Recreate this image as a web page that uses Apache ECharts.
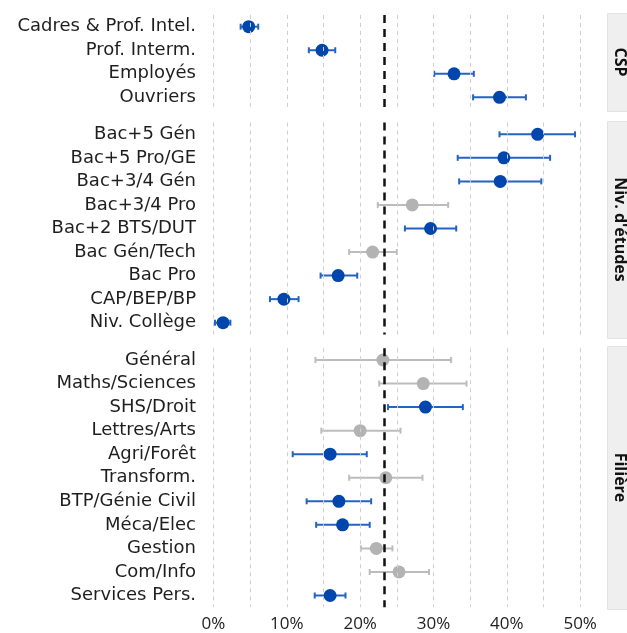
<!DOCTYPE html>
<html><head><meta charset="utf-8">
<script src="https://cdn.jsdelivr.net/npm/echarts@6/dist/echarts.min.js"></script>
<style>html,body{margin:0;padding:0;background:#fff}#c{width:627px;height:633px}</style>
</head><body><div id="c"></div><script>
const cspLabels = ['Cadres & Prof. Intel.','Prof. Interm.','Employés','Ouvriers'];
const cspEst  = [4.8, 14.8, 32.8, 39.0];
const cspLow  = [3.7, 13.0, 30.1, 35.4];
const cspHigh = [6.1, 16.6, 35.5, 42.6];
const cspSig  = [1, 1, 1, 1];

const etuLabels = ['Bac+5 Gén','Bac+5 Pro/GE','Bac+3/4 Gén','Bac+3/4 Pro','Bac+2 BTS/DUT','Bac Gén/Tech','Bac Pro','CAP/BEP/BP','Niv. Collège'];
const etuEst  = [44.2, 39.6, 39.1, 27.1, 29.6, 21.7, 17.0, 9.6, 1.3];
const etuLow  = [39.0, 33.3, 33.5, 22.4, 26.1, 18.5, 14.6, 7.7, 0.2];
const etuHigh = [49.3, 45.9, 44.7, 32.0, 33.1, 25.0, 19.6, 11.6, 2.3];
const etuSig  = [1, 1, 1, 0, 1, 0, 1, 1, 1];

const filLabels = ['Général','Maths/Sciences','SHS/Droit','Lettres/Arts','Agri/Forêt','Transform.','BTP/Génie Civil','Méca/Elec','Gestion','Com/Info','Services Pers.'];
const filEst  = [23.1, 28.6, 28.9, 20.0, 15.9, 23.5, 17.1, 17.6, 22.2, 25.3, 15.9];
const filLow  = [13.9, 22.6, 23.8, 14.7, 10.8, 18.5, 12.7, 14.0, 20.1, 21.3, 13.8];
const filHigh = [32.4, 34.5, 34.0, 25.5, 20.9, 28.5, 21.5, 21.3, 24.4, 29.4, 18.0];
const filSig  = [0, 0, 1, 0, 1, 0, 1, 1, 0, 0, 1];

const panelTitles = ['CSP', "Niv. d'études", 'Filière'];
const xTickValues = [0, 10, 20, 30, 40, 50];
const gridLineValues = [0, 5, 10, 15, 20, 25, 30, 35, 40, 45, 50];
const refValue = 23.3;

const BLUE_PT = '#0046ad', BLUE_BAR = '#2463c4', GRAY_PT = '#b3b3b3', GRAY_BAR = '#bcbcbc';
const FONT = '"Open Sans", sans-serif';
const YFONT = '"DejaVu Sans", sans-serif';

const panels = [
  {labels: cspLabels, est: cspEst, low: cspLow, high: cspHigh, sig: cspSig},
  {labels: etuLabels, est: etuEst, low: etuLow, high: etuHigh, sig: etuSig},
  {labels: filLabels, est: filEst, low: filLow, high: filHigh, sig: filSig}
];
const ROW = 23.55;
const rowCenters0 = [26.7, 134.3, 360.0];
const stripBounds = [[13, 111], [121, 338], [346, 609]];
const GL = 197, GW = 396, XMIN = -2.25, XMAX = 51.75;

const grids = [], xAxes = [], yAxes = [], series = [], graphics = [];
panels.forEach((p, k) => {
  const n = p.labels.length;
  grids.push({left: GL, width: GW, top: rowCenters0[k] - ROW / 2, height: n * ROW});
  xAxes.push({
    type: 'value', gridIndex: k, min: XMIN, max: XMAX,
    axisLine: {show: false}, axisTick: {show: false}, splitLine: {show: false},
    axisLabel: k === 2 ? {
      show: true, customValues: xTickValues, formatter: v => v + '%',
      fontFamily: FONT, fontSize: 17, color: '#222', margin: 8
    } : {show: false}
  });
  yAxes.push({
    type: 'category', gridIndex: k, data: p.labels, inverse: true,
    axisLine: {show: false}, axisTick: {show: false}, splitLine: {show: false},
    axisLabel: {fontFamily: YFONT, fontSize: 18, color: '#1e1e1e', margin: 1}
  });
  series.push({
    type: 'scatter', xAxisIndex: k, yAxisIndex: k, data: [], z: 1, silent: true,
    markLine: {
      silent: true, symbol: 'none', animation: false, label: {show: false},
      lineStyle: {color: '#cfcfcf', type: [4, 4], width: 1},
      data: gridLineValues.map(v => ({xAxis: v}))
    }
  });
  series.push({
    type: 'custom', xAxisIndex: k, yAxisIndex: k, z: 3, clip: false, silent: true,
    data: p.labels.map((l, i) => [p.low[i], p.high[i], i, p.sig[i]]),
    encode: {x: [0, 1], y: 2},
    renderItem(params, api) {
      const y = api.value(2);
      const a = api.coord([api.value(0), y]);
      const b = api.coord([api.value(1), y]);
      const c = api.value(3) ? BLUE_BAR : GRAY_BAR;
      const h = 3;
      const st = {stroke: c, lineWidth: 2};
      return {type: 'group', children: [
        {type: 'line', shape: {x1: a[0], y1: a[1], x2: b[0], y2: b[1]}, style: st},
        {type: 'line', shape: {x1: a[0], y1: a[1] - h, x2: a[0], y2: a[1] + h}, style: st},
        {type: 'line', shape: {x1: b[0], y1: b[1] - h, x2: b[0], y2: b[1] + h}, style: st}
      ]};
    }
  });
  series.push({
    type: 'scatter', xAxisIndex: k, yAxisIndex: k, z: 4, clip: false, symbolSize: 13,
    data: p.labels.map((l, i) => ({value: [p.est[i], l], itemStyle: {color: p.sig[i] ? BLUE_PT : GRAY_PT, opacity: 1}}))
  });
  series.push({
    type: 'scatter', xAxisIndex: k, yAxisIndex: k, data: [], z: 5, silent: true,
    markLine: {
      silent: true, symbol: 'none', animation: false, label: {show: false},
      lineStyle: {color: '#111', type: [8, 6], width: 2.5},
      data: [{xAxis: refValue}]
    }
  });
  const [y0, y1] = stripBounds[k];
  graphics.push({type: 'rect', shape: {x: 607.5, y: y0 + 0.5, width: 40, height: y1 - y0}, style: {fill: '#efefef', stroke: '#e2e2e2', lineWidth: 1}, z: 0});
  graphics.push({type: 'text', x: 620, y: (y0 + y1) / 2, rotation: -Math.PI / 2,
    style: {text: panelTitles[k], fontFamily: FONT, fontWeight: 'bold', fontSize: 16, fill: '#111', align: 'center', verticalAlign: 'middle'}, z: 1});
});

const chart = echarts.init(document.getElementById('c'), null, {renderer: 'canvas'});
chart.setOption({
  animation: false, backgroundColor: '#fff',
  grid: grids, xAxis: xAxes, yAxis: yAxes, series, graphic: graphics
});
</script></body></html>
